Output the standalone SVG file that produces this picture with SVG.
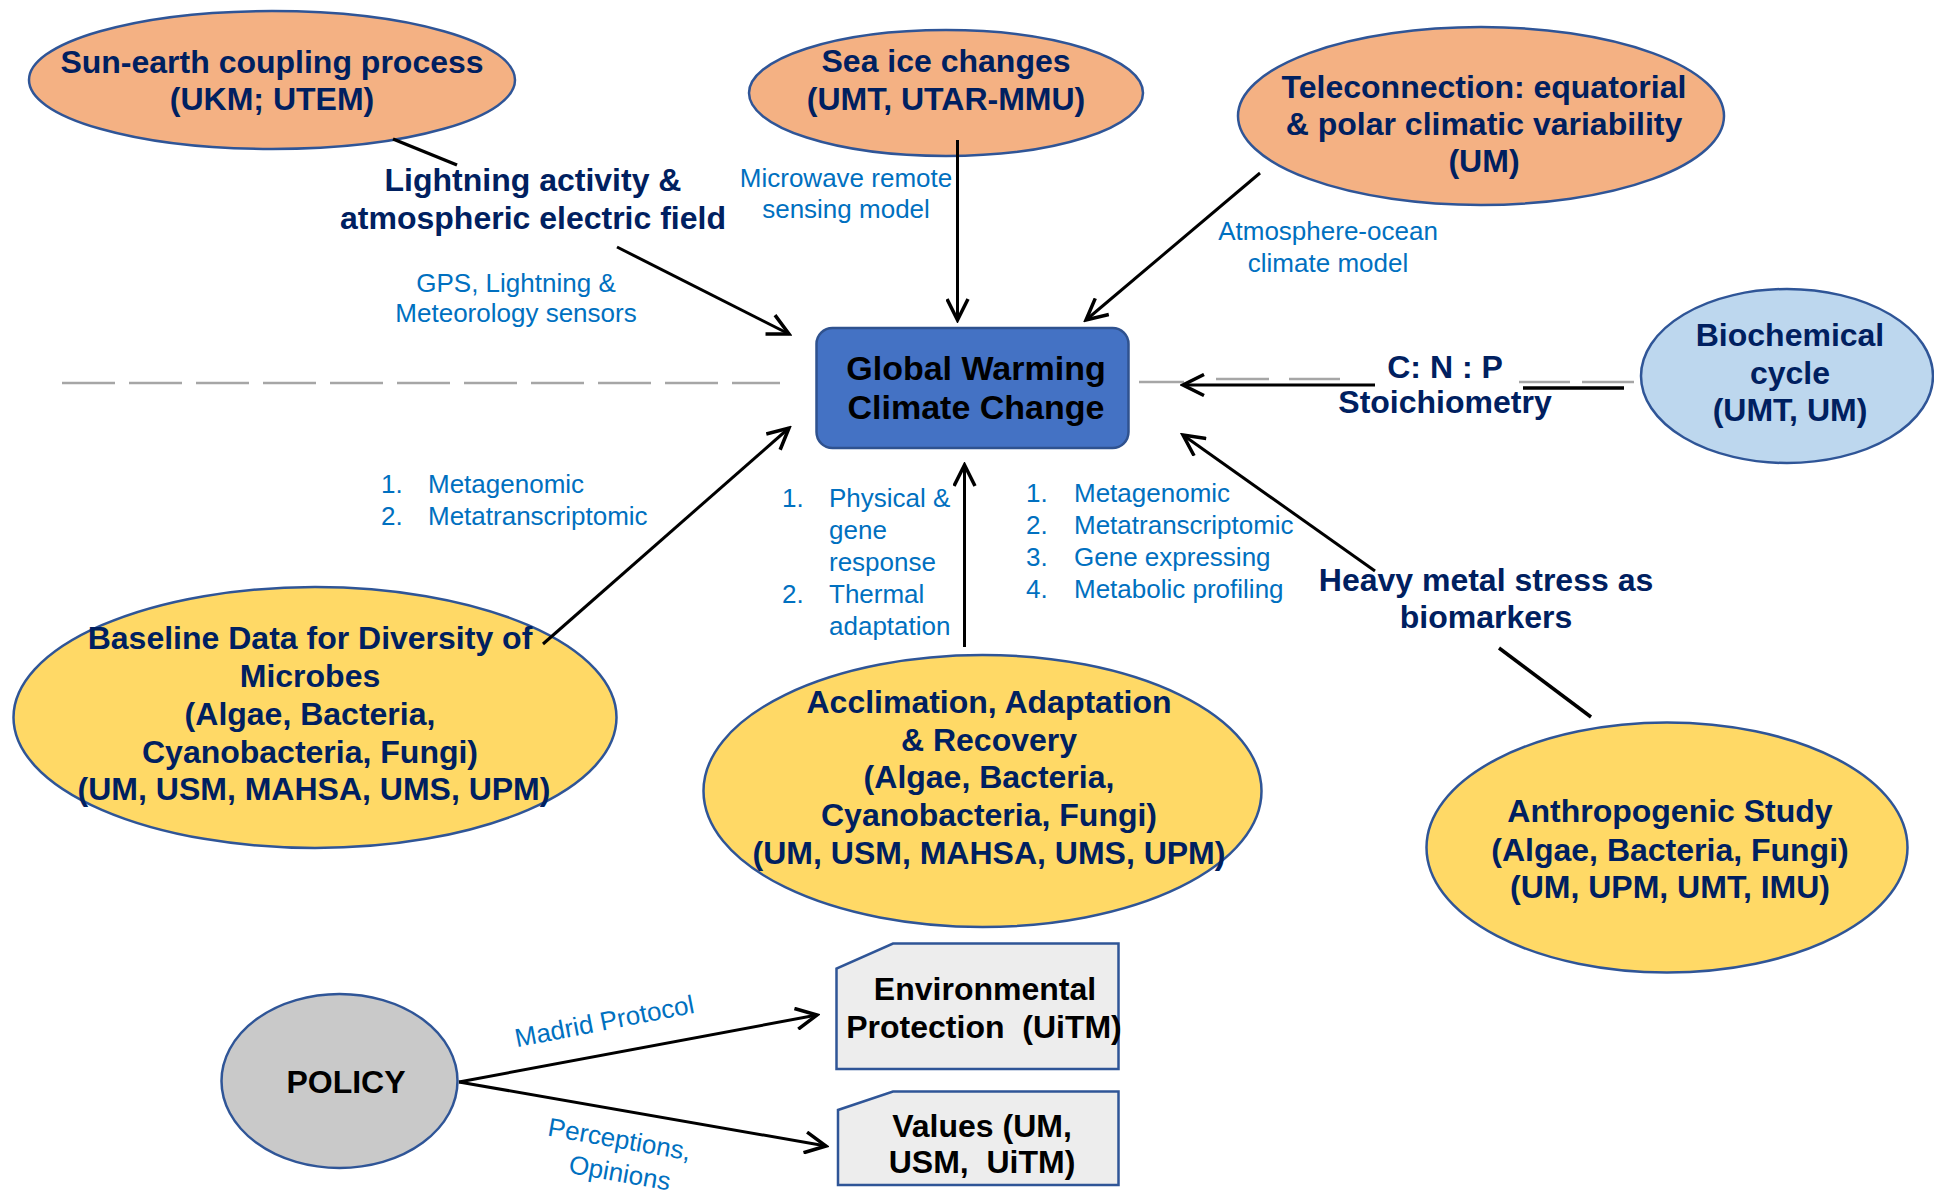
<svg xmlns="http://www.w3.org/2000/svg" width="1934" height="1195" viewBox="0 0 1934 1195">
<style>
.nt{font-family:"Liberation Sans",Arial,sans-serif;font-weight:bold;font-size:32px;fill:#002060;text-anchor:middle}
.bk{fill:#000}
.lb{font-family:"Liberation Sans",Arial,sans-serif;font-size:26px;fill:#0070C0}
.lbc{text-anchor:middle}
.org{fill:#F4B183;stroke:#2F5597;stroke-width:2.5}
.yel{fill:#FFD966;stroke:#2F5597;stroke-width:2.5}
.lblue{fill:#BDD7EE;stroke:#2F5597;stroke-width:2.5}
.gry{fill:#C9C9C9;stroke:#2F5597;stroke-width:2.5}
.box{fill:#EDEDED;stroke:#2F5597;stroke-width:2.5}
.ln{stroke:#000;stroke-width:3.5;fill:none}
.arr{stroke:#000;stroke-width:3;fill:none;marker-end:url(#ah)}
.dash{stroke:#A6A6A6;stroke-width:2.5;fill:none}
</style>
<defs>
<marker id="ah" viewBox="0 0 26 24" refX="23" refY="12" markerWidth="26" markerHeight="24" markerUnits="userSpaceOnUse" orient="auto">
<path d="M2,1.5 L23,12 L2,22.5" fill="none" stroke="#000" stroke-width="3.5"/>
</marker>
</defs>
<rect width="1934" height="1195" fill="#fff"/>

<g id="sun-earth">
<ellipse class="org" cx="272" cy="80" rx="243" ry="69"/>
<text class="nt" x="272" y="73">Sun-earth coupling process</text>
<text class="nt" x="272" y="110">(UKM; UTEM)</text>
</g>

<g id="sea-ice">
<ellipse class="org" cx="946" cy="93" rx="197" ry="63"/>
<text class="nt" x="946" y="72">Sea ice changes</text>
<text class="nt" x="946" y="110">(UMT, UTAR-MMU)</text>
</g>

<g id="teleconnection">
<ellipse class="org" cx="1481" cy="116" rx="243" ry="89"/>
<text class="nt" x="1484" y="98">Teleconnection: equatorial</text>
<text class="nt" x="1484" y="135">&amp; polar climatic variability</text>
<text class="nt" x="1484" y="172">(UM)</text>
</g>

<g id="global-warming">
<rect x="816.5" y="328" width="312" height="120" rx="16" fill="#4472C4" stroke="#2F528F" stroke-width="2.5"/>
<text class="nt bk" x="976" y="379.5" style="font-size:34px">Global Warming</text>
<text class="nt bk" x="976" y="419" style="font-size:34px">Climate Change</text>
</g>

<g id="biochemical">
<ellipse class="lblue" cx="1787" cy="376" rx="146" ry="87"/>
<text class="nt" x="1790" y="346">Biochemical</text>
<text class="nt" x="1790" y="384">cycle</text>
<text class="nt" x="1790" y="421">(UMT, UM)</text>
</g>

<g id="baseline">
<ellipse class="yel" cx="315" cy="717.5" rx="301.5" ry="130.5"/>
<text class="nt" x="310" y="649">Baseline Data for Diversity of</text>
<text class="nt" x="310" y="687">Microbes</text>
<text class="nt" x="310" y="725">(Algae, Bacteria,</text>
<text class="nt" x="310" y="763">Cyanobacteria, Fungi)</text>
<text class="nt" x="314" y="800">(UM, USM, MAHSA, UMS, UPM)</text>
</g>

<g id="acclimation">
<ellipse class="yel" cx="982.5" cy="791" rx="279" ry="136"/>
<text class="nt" x="989" y="713">Acclimation, Adaptation</text>
<text class="nt" x="989" y="751">&amp; Recovery</text>
<text class="nt" x="989" y="788">(Algae, Bacteria,</text>
<text class="nt" x="989" y="826">Cyanobacteria, Fungi)</text>
<text class="nt" x="989" y="864">(UM, USM, MAHSA, UMS, UPM)</text>
</g>

<g id="anthropogenic">
<ellipse class="yel" cx="1667" cy="847.5" rx="240.5" ry="125"/>
<text class="nt" x="1670" y="822">Anthropogenic Study</text>
<text class="nt" x="1670" y="861">(Algae, Bacteria, Fungi)</text>
<text class="nt" x="1670" y="898">(UM, UPM, UMT, IMU)</text>
</g>

<g id="policy">
<ellipse class="gry" cx="339.5" cy="1081" rx="118" ry="87"/>
<text class="nt bk" x="346" y="1093">POLICY</text>
</g>

<g id="environmental-protection">
<path class="box" d="M893,943.5 H1118.5 V1069 H836.5 V968.5 Z"/>
<text class="nt bk" x="985" y="1000">Environmental</text>
<text class="nt bk" x="984" y="1038" xml:space="preserve">Protection  (UiTM)</text>
</g>

<g id="values">
<path class="box" d="M893,1091.5 H1118.5 V1185 H838 V1110 Z"/>
<text class="nt bk" x="982" y="1137">Values (UM,</text>
<text class="nt bk" x="982" y="1173" xml:space="preserve">USM,  UiTM)</text>
</g>

<g id="connectors">
<line class="dash" x1="62" y1="383" x2="780" y2="383" stroke-dasharray="53 14"/>
<line class="dash" x1="1139" y1="382" x2="1184" y2="382"/>
<line class="dash" x1="1216" y1="379" x2="1269" y2="379"/>
<line class="dash" x1="1289" y1="379" x2="1340" y2="379"/>
<line class="dash" x1="1519" y1="382" x2="1570" y2="382"/>
<line class="dash" x1="1582" y1="382" x2="1634" y2="382"/>
<line class="ln" x1="1523" y1="388" x2="1624" y2="388" stroke-width="4"/>
<line class="arr" x1="1375" y1="385" x2="1183" y2="385"/>
<line class="ln" x1="393" y1="139" x2="457" y2="165"/>
<line class="arr" x1="617" y1="247" x2="789" y2="334"/>
<line class="arr" x1="957.5" y1="140" x2="957.5" y2="320"/>
<line class="arr" x1="1260" y1="173" x2="1086" y2="320"/>
<line class="arr" x1="543" y1="644" x2="789" y2="428"/>
<line class="arr" x1="964.5" y1="647" x2="964.5" y2="465"/>
<line class="arr" x1="1375" y1="571" x2="1183" y2="435"/>
<line class="ln" x1="1499" y1="648" x2="1591" y2="717"/>
<line class="arr" x1="459" y1="1082" x2="817" y2="1015"/>
<line class="arr" x1="459" y1="1082" x2="826" y2="1146"/>
</g>

<g id="labels">
<text class="nt" x="533" y="191">Lightning activity &amp;</text>
<text class="nt" x="533" y="229">atmospheric electric field</text>
<text class="lb lbc" x="516" y="292">GPS, Lightning &amp;</text>
<text class="lb lbc" x="516" y="322">Meteorology sensors</text>
<text class="lb lbc" x="846" y="187">Microwave remote</text>
<text class="lb lbc" x="846" y="218">sensing model</text>
<text class="lb lbc" x="1328" y="240">Atmosphere-ocean</text>
<text class="lb lbc" x="1328" y="272">climate model</text>
<text class="nt" x="1445" y="378">C: N : P</text>
<text class="nt" x="1445" y="413">Stoichiometry</text>
<text class="nt" x="1486" y="591">Heavy metal stress as</text>
<text class="nt" x="1486" y="628">biomarkers</text>
<text class="lb" x="381" y="493">1.</text><text class="lb" x="428" y="493">Metagenomic</text>
<text class="lb" x="381" y="525">2.</text><text class="lb" x="428" y="525">Metatranscriptomic</text>
<text class="lb" x="782" y="507">1.</text><text class="lb" x="829" y="507">Physical &amp;</text>
<text class="lb" x="829" y="539">gene</text>
<text class="lb" x="829" y="571">response</text>
<text class="lb" x="782" y="603">2.</text><text class="lb" x="829" y="603">Thermal</text>
<text class="lb" x="829" y="635">adaptation</text>
<text class="lb" x="1026" y="502">1.</text><text class="lb" x="1074" y="502">Metagenomic</text>
<text class="lb" x="1026" y="534">2.</text><text class="lb" x="1074" y="534">Metatranscriptomic</text>
<text class="lb" x="1026" y="566">3.</text><text class="lb" x="1074" y="566">Gene expressing</text>
<text class="lb" x="1026" y="598">4.</text><text class="lb" x="1074" y="598">Metabolic profiling</text>
<text class="lb lbc" transform="translate(606,1030) rotate(-11)">Madrid Protocol</text>
<text class="lb lbc" transform="translate(618,1148) rotate(10)"><tspan x="0" y="0">Perceptions,</tspan><tspan x="6" y="33">Opinions</tspan></text>
</g>
</svg>
